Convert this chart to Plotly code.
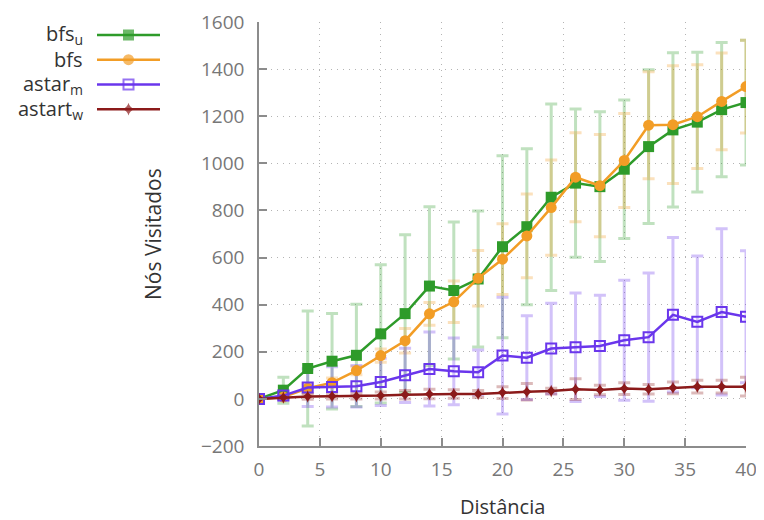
import plotly.graph_objects as go

# page body has an 8px margin, so the figure is laid out in page pixels minus that offset
OFF = 8
W, H = 764 - OFF, 520 - OFF


def px(x):
    return (x - OFF) / W


def py(y):
    return 1 - (y - OFF) / H


distancia = [0, 2, 4, 6, 8, 10, 12, 14, 16, 18, 20, 22, 24, 26, 28, 30, 32, 34, 36, 38, 40]

bfs_u = [0, 37, 129, 160, 185, 276, 362, 479, 460, 509, 646, 731, 856, 916, 901, 975, 1071, 1142, 1175, 1228, 1258]
bfs_u_err = [0, 55, 244, 203, 217, 293, 335, 337, 291, 289, 386, 331, 396, 315, 318, 294, 326, 327, 297, 285, 265]

bfs = [0, 8, 45, 69, 120, 184, 247, 361, 412, 512, 593, 692, 812, 941, 905, 1012, 1162, 1164, 1198, 1263, 1326]
bfs_err = [0, 10, 20, 20, 17, 28, 52, 48, 88, 118, 150, 178, 202, 189, 217, 200, 227, 250, 220, 205, 197]

astar_m = [0, 14, 48, 51, 54, 72, 100, 127, 117, 113, 184, 175, 214, 219, 225, 249, 262, 357, 327, 369, 349]
astar_m_err = [0, 20, 80, 85, 88, 100, 115, 157, 142, 95, 248, 178, 192, 230, 215, 255, 272, 328, 280, 353, 280]

astart_w = [0, 6, 10, 11, 11, 14, 18, 21, 21, 21, 27, 30, 33, 41, 38, 44, 41, 47, 52, 52, 52]
astart_w_err = [0, 5, 12, 12, 12, 15, 18, 20, 18, 15, 25, 35, 12, 44, 20, 25, 20, 25, 27, 27, 40]

series_names = ["bfs<sub>u</sub>", "bfs", "astar<sub>m</sub>", "astart<sub>w</sub>"]
x_ticks = [0, 5, 10, 15, 20, 25, 30, 35, 40]
y_ticks = [-200, 0, 200, 400, 600, 800, 1000, 1200, 1400, 1600]

FONT = "Open Sans"

styles = [
    dict(color="#2e9b2a", err="rgba(46,155,42,0.30)", symbol="square", size=11, lw=0),
    dict(color="#f29d26", err="rgba(242,157,38,0.30)", symbol="circle", size=11, lw=0),
    dict(color="#6a36ec", err="rgba(106,54,236,0.30)", symbol="square-open", size=10, lw=2),
    dict(color="#8b1a1a", err="rgba(139,26,26,0.30)", symbol="star-diamond", size=9, lw=0),
]
values = [bfs_u, bfs, astar_m, astart_w]
errors = [bfs_u_err, bfs_err, astar_m_err, astart_w_err]

fig = go.Figure()

# error bars first (beneath all lines)
for v, e, s in zip(values, errors, styles):
    fig.add_trace(go.Scatter(
        x=distancia, y=v, mode="markers",
        marker=dict(size=0.1, color="rgba(0,0,0,0)"),
        error_y=dict(type="data", array=e, visible=True, color=s["err"], thickness=3, width=6),
        showlegend=False, hoverinfo="skip"))

for v, s in zip(values, styles):
    fig.add_trace(go.Scatter(
        x=distancia, y=v, mode="lines+markers",
        line=dict(color=s["color"], width=2.5),
        marker=dict(symbol=s["symbol"], size=s["size"], color=s["color"],
                    line=dict(color=s["color"], width=s["lw"])),
        showlegend=False))

# legend drawn in a helper axis
for i, s in enumerate(styles):
    fig.add_trace(go.Scatter(
        x=[0, 0.5, 1], y=[i + 1] * 3, mode="lines+markers",
        line=dict(color=s["color"], width=2.5),
        marker=dict(symbol=s["symbol"], size=[0, s["size"], 0], color=s["color"],
                    line=dict(color=s["color"], width=s["lw"])),
        xaxis="x2", yaxis="y2", showlegend=False, hoverinfo="skip"))

annotations = []
for i, name in enumerate(series_names):
    annotations.append(dict(x=px(85), xref="paper", y=i + 1, yref="y2", text=name,
                            showarrow=False, xanchor="right", yanchor="middle",
                            font=dict(size=20, color="#333333", family=FONT)))
annotations.append(dict(x=px(502), xref="paper", y=py(506), yref="paper", text="Distância",
                        showarrow=False, xanchor="center", yanchor="middle",
                        font=dict(size=20, color="#333333", family=FONT)))
annotations.append(dict(x=px(153), xref="paper", y=py(234), yref="paper", text="Nós Visitados",
                        showarrow=False, xanchor="center", yanchor="middle", textangle=-90,
                        font=dict(size=21, color="#333333", family=FONT)))

axis_common = dict(
    showgrid=True, gridcolor="#b4b4b4", griddash="1px,5px", gridwidth=1,
    showline=True, linecolor="#8c8c8c", linewidth=1.5,
    ticks="inside", ticklen=8, tickcolor="#8c8c8c", tickwidth=1.5,
    zeroline=False, mirror=False, automargin=False,
    tickfont=dict(size=19, color="#777777", family=FONT),
)

fig.update_layout(
    template="none",
    width=W, height=H,
    margin=dict(l=0, r=0, t=0, b=0, pad=0, autoexpand=False),
    paper_bgcolor="white", plot_bgcolor="white",
    font=dict(family=FONT),
    showlegend=False,
    xaxis=dict(domain=[px(259), px(746)], range=[0, 40], tickvals=x_ticks, anchor="y",
               ticklabelstandoff=5, **axis_common),
    yaxis=dict(domain=[py(446), py(22)], range=[-200, 1600], tickvals=y_ticks, anchor="x",
               ticklabelstandoff=9, **axis_common),
    xaxis2=dict(domain=[px(97), px(160)], range=[0, 1], visible=False, anchor="y2", automargin=False),
    yaxis2=dict(domain=[py(121.5), py(22.5)], range=[4.5, 0.5], visible=False, anchor="x2",
                automargin=False),
    annotations=annotations,
)

fig.write_html("out.html")
